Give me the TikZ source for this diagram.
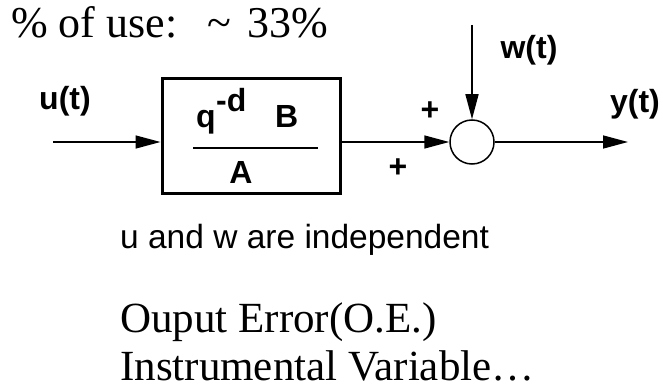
\documentclass[tikz,border=0pt]{standalone}
\usepackage{fontspec}
\setmainfont{Liberation Serif}
\setsansfont{Liberation Sans}
\usetikzlibrary{arrows.meta}
\begin{document}
\begin{tikzpicture}[x=1pt,y=-1pt,
  lbl/.style={font=\sffamily\bfseries\fontsize{32}{32}\selectfont, inner sep=0pt},
  serif/.style={font=\rmfamily\fontsize{43}{43}\selectfont, inner sep=0pt, anchor=base west},
  arr/.style={line width=1.5pt,-{Triangle[length=25pt,width=13pt]}},
  blockbox/.style={draw, line width=3pt, minimum width=178pt, minimum height=114pt, inner sep=0pt},
  sumnode/.style={circle, draw, line width=1.5pt, minimum size=44pt, inner sep=0pt}]
\useasboundingbox (0,0) rectangle (663,385);

% top text
\node[serif, font=\rmfamily\fontsize{44}{44}\selectfont] (use) at (11,38) {\% of use:\hspace{30pt}\textasciitilde\hspace{16pt}33\%};

% block and junction
\node[blockbox] (blk) at (251,136) {};
\node[sumnode] (sum) at (472,142) {};
\coordinate (in) at (53,142);
\coordinate (wt) at (472,25);
\coordinate (out) at (628,142);

\draw[arr] (in) -- (in -| blk.west);
\draw[arr] (in -| blk.east) -- (sum.west);
\draw[arr] (wt) -- (sum.north);
\draw[arr] (sum.east) -- (out);

% transfer function
\draw[line width=1.5pt] (193,148) coordinate (fl) -- (318,148) coordinate (fr);
\node[lbl, anchor=base west] (q) at (196,128) {q};
\node[lbl, anchor=base west] (qd) at (216,112) {-d};
\node[lbl, anchor=base west] (B) at (275,128) {B};
\node[lbl, anchor=base] (A) at (241,183) {A};

% labels
\node[lbl] (ut) at (65,101) {u(t)};
\node[lbl] (wlab) at (529,50) {w(t)};
\node[lbl] (ylab) at (635,104) {y(t)};
\node[lbl] (p1) at (430,111) {+};
\node[lbl] (p2) at (398,168) {+};

% bottom text
\node[font=\sffamily\fontsize{33.5}{33.5}\selectfont, inner sep=0pt, anchor=base west] (indep) at (120,248) {u and w are independent};
\node[serif] (oe) at (120,332) {Ouput Error(O.E.)};
\node[serif] (iv) at (120,380) {Instrumental Variable…};
\end{tikzpicture}
\end{document}
